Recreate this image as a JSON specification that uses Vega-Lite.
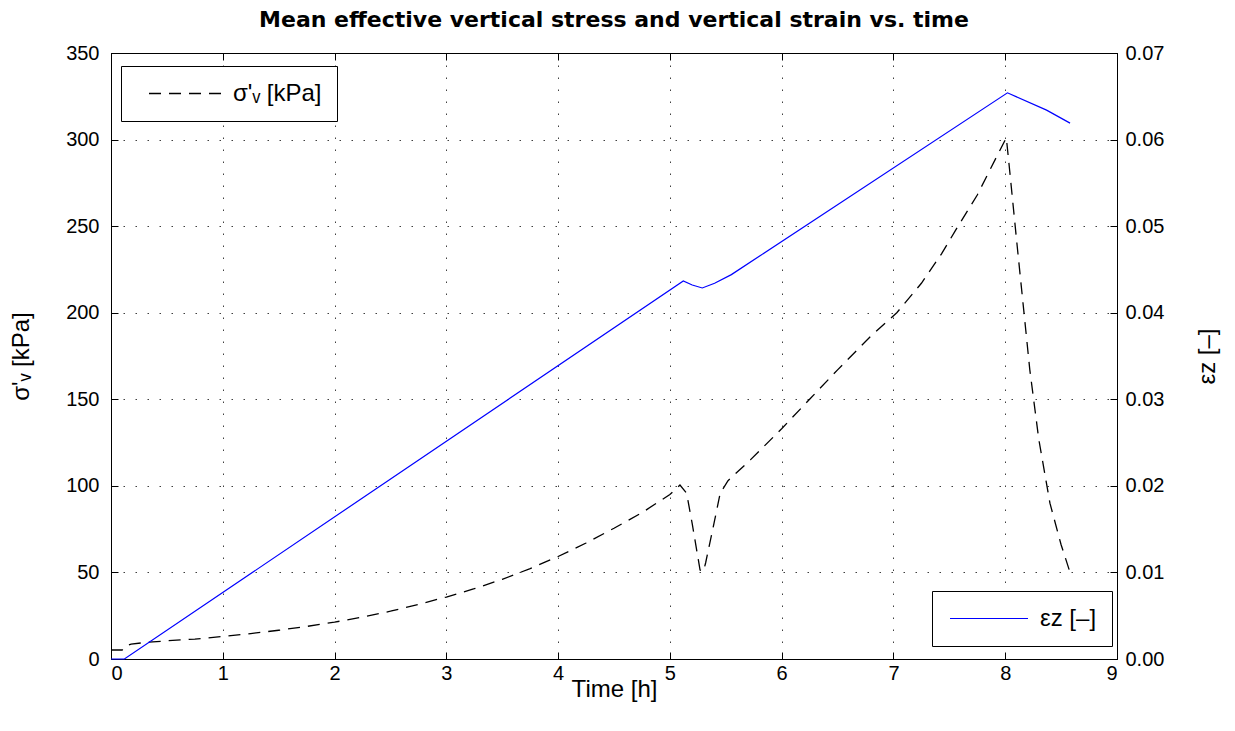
{
  "$schema": "https://vega.github.io/schema/vega-lite/v6.json",
  "width": 1006,
  "height": 606,
  "autosize": {"type": "none"},
  "padding": {"left": 111, "top": 53, "right": 118, "bottom": 72},
  "background": "white",
  "title": {"text": "Mean effective vertical stress and vertical strain vs. time", "fontSize": 22, "font": "DejaVu Sans", "fontWeight": "bold", "color": "black", "offset": 11, "anchor": "middle"},
  "config": {
    "view": {"stroke": "black", "strokeWidth": 1},
    "font": "Liberation Sans",
    "axis": {
      "domainColor": "black", "domainWidth": 1, "tickColor": "black", "tickWidth": 1, "tickSize": -7,
      "labelColor": "black", "labelFontSize": 20, "labelFont": "Liberation Sans",
      "titleColor": "black", "titleFontSize": 24, "titleFont": "Liberation Sans", "titleFontWeight": "normal",
      "gridColor": "black", "gridDash": [1.5, 10.5], "gridOpacity": 0.75, "gridWidth": 1
    },
    "legend": {
      "orient": "none", "strokeColor": "black", "fillColor": "white", "cornerRadius": 0,
      "labelFontSize": 24, "labelFont": "Liberation Sans", "labelColor": "black",
      "symbolType": "M-3.9,0H3.9", "symbolSize": 400, "padding": 15.5, "title": null
    }
  },
  "datasets": {
    "stress": [
      {"t": 0, "stress": 5.2}, {"t": 0.1, "stress": 5.2}, {"t": 0.13, "stress": 7.5}, {"t": 0.18, "stress": 8.6},
      {"t": 0.3, "stress": 9.5}, {"t": 0.5, "stress": 10.5}, {"t": 0.75, "stress": 11.5}, {"t": 1, "stress": 13},
      {"t": 1.25, "stress": 14.7}, {"t": 1.5, "stress": 16.6}, {"t": 1.75, "stress": 18.8}, {"t": 2, "stress": 21.3},
      {"t": 2.25, "stress": 24.2}, {"t": 2.5, "stress": 27.6}, {"t": 2.75, "stress": 31.5}, {"t": 3, "stress": 35.8},
      {"t": 3.25, "stress": 40.6}, {"t": 3.5, "stress": 46}, {"t": 3.75, "stress": 52.2}, {"t": 4, "stress": 59.2},
      {"t": 4.25, "stress": 67}, {"t": 4.5, "stress": 75.5}, {"t": 4.75, "stress": 84.5}, {"t": 5.0, "stress": 95},
      {"t": 5.09, "stress": 100.5}, {"t": 5.15, "stress": 95.7}, {"t": 5.2, "stress": 78}, {"t": 5.27, "stress": 51.4},
      {"t": 5.3, "stress": 50.5}, {"t": 5.32, "stress": 55.6}, {"t": 5.4, "stress": 80}, {"t": 5.45, "stress": 95.7},
      {"t": 5.52, "stress": 103}, {"t": 5.72, "stress": 115}, {"t": 6.0, "stress": 133}, {"t": 6.25, "stress": 150},
      {"t": 6.5, "stress": 167}, {"t": 6.79, "stress": 186}, {"t": 7.03, "stress": 200}, {"t": 7.25, "stress": 217},
      {"t": 7.43, "stress": 234}, {"t": 7.55, "stress": 247}, {"t": 7.75, "stress": 268}, {"t": 7.93, "stress": 291},
      {"t": 8.01, "stress": 301}, {"t": 8.04, "stress": 282}, {"t": 8.1, "stress": 243}, {"t": 8.22, "stress": 167},
      {"t": 8.3, "stress": 127}, {"t": 8.4, "stress": 90}, {"t": 8.5, "stress": 66}, {"t": 8.58, "stress": 50}
    ],
    "strain": [
      {"t": 0, "strain": 0}, {"t": 0.12, "strain": 0}, {"t": 5.12, "strain": 0.04366}, {"t": 5.2, "strain": 0.0432},
      {"t": 5.29, "strain": 0.04286}, {"t": 5.4, "strain": 0.0434}, {"t": 5.55, "strain": 0.0444},
      {"t": 8.02, "strain": 0.0654}, {"t": 8.37, "strain": 0.0634}, {"t": 8.58, "strain": 0.0619}
    ]
  },
  "layer": [
    {
      "data": {"name": "stress"},
      "mark": {"type": "line", "strokeWidth": 1.3, "color": "black"},
      "encoding": {
        "x": {"field": "t", "type": "quantitative", "scale": {"domain": [0, 9], "nice": false},
              "axis": {"title": "Time [h]", "values": [0,1,2,3,4,5,6,7,8,9], "labelPadding": 11, "titlePadding": -6, "grid": true}},
        "y": {"field": "stress", "type": "quantitative", "scale": {"domain": [0, 350], "nice": false},
              "axis": {"title": "σ'ᵥ [kPa]", "values": [0,50,100,150,200,250,300,350], "labelPadding": 19, "titlePadding": 32, "grid": true}},
        "strokeDash": {"datum": "σ'ᵥ [kPa]", "type": "nominal", "scale": {"range": [[12, 8]]},
                       "legend": {"legendX": 10, "legendY": 13, "symbolStrokeColor": "black", "symbolStrokeWidth": 1.3, "symbolOffset": 39.5, "labelOffset": 33}}
      }
    },
    {
      "data": {"name": "strain"},
      "mark": {"type": "line", "strokeWidth": 1.2},
      "encoding": {
        "x": {"field": "t", "type": "quantitative", "scale": {"domain": [0, 9], "nice": false},
              "axis": {"orient": "top", "title": null, "labels": false, "grid": false, "values": [0,1,2,3,4,5,6,7,8,9], "domain": false}},
        "y": {"field": "strain", "type": "quantitative", "scale": {"domain": [0, 0.07], "nice": false},
              "axis": {"orient": "right", "title": "εz [–]", "titleAngle": 270, "format": ".2f", "values": [0,0.01,0.02,0.03,0.04,0.05,0.06,0.07], "labelPadding": 15, "titlePadding": 56, "grid": false}},
        "color": {"datum": "εz [–]", "type": "nominal", "scale": {"range": ["#0000ff"]},
                  "legend": {"legendX": 821, "legendY": 538, "symbolStrokeWidth": 1.2, "symbolOffset": 29.5, "labelOffset": 39}}
      }
    }
  ],
  "resolve": {"scale": {"y": "independent"}, "axis": {"x": "independent"}}
}
